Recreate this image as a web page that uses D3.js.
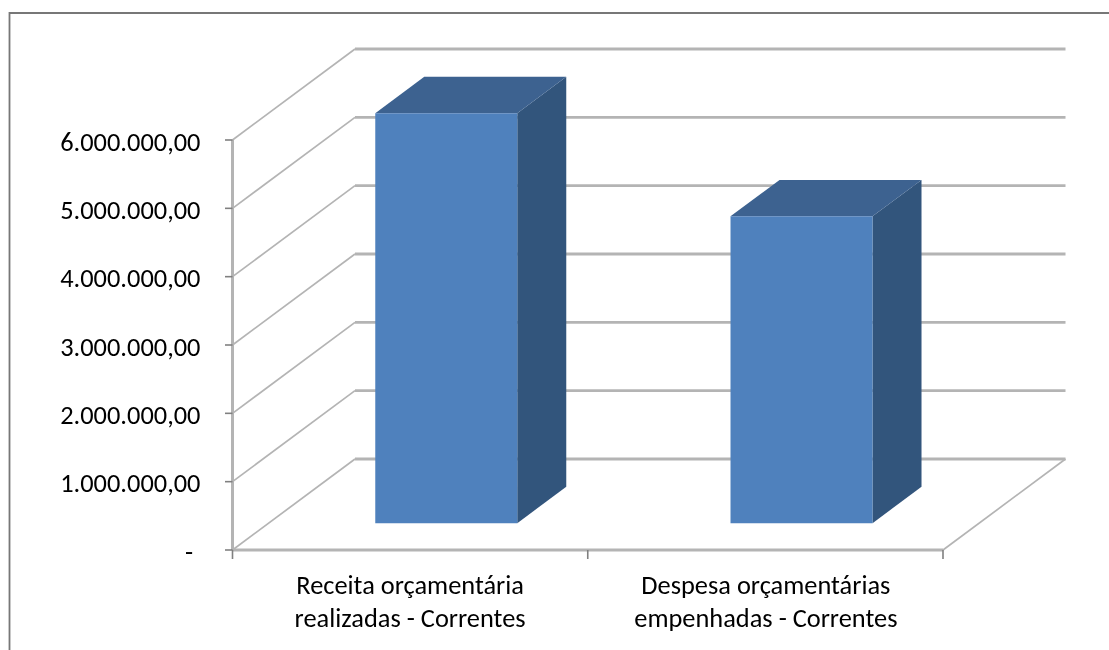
<!DOCTYPE html>
<html><head><meta charset="utf-8">
<script src="https://cdnjs.cloudflare.com/ajax/libs/d3/7.8.5/d3.min.js"></script>
<style>html,body{margin:0;padding:0;background:#fff;overflow:hidden}text{font-family:Carlito,"Open Sans","Noto Sans",sans-serif;fill:#000}</style>
</head><body><svg id="c" width="1109" height="650"></svg>
<script>
const categories = [["Receita orçamentária","realizadas - Correntes"],["Despesa orçamentárias","empenhadas - Correntes"]];
const values = [6000000, 4490000];
const tickValues = [0,1000000,2000000,3000000,4000000,5000000,6000000];
const tickLabels = ["-","1.000.000,00","2.000.000,00","3.000.000,00","4.000.000,00","5.000.000,00","6.000.000,00"];

const svgRoot = d3.select("#c");
const defs = svgRoot.append("defs");
const soft = defs.append("filter").attr("id","soft").attr("filterUnits","userSpaceOnUse")
  .attr("x",0).attr("y",0).attr("width",1109).attr("height",650);
soft.append("feGaussianBlur").attr("stdDeviation",0.7);
const softText = defs.append("filter").attr("id","softText").attr("filterUnits","userSpaceOnUse")
  .attr("x",0).attr("y",0).attr("width",1109).attr("height",650);
softText.append("feGaussianBlur").attr("stdDeviation",0.35);
const svg = svgRoot.append("g").attr("filter","url(#soft)");
const labels = svgRoot.append("g").attr("filter","url(#softText)");

const x = d3.scaleBand().domain(d3.range(categories.length)).range([232.5,943]);
const y = d3.scaleLinear().domain([0,6000000]).range([550,140]);
const depth = d3.scaleLinear().domain([0,1]).range([0,1]);
const DX = 122.5, DY = -91;
const px = (fx,t)=>fx+depth(t)*DX;
const py = (v,t)=>y(v)+depth(t)*DY;
const pts = a=>a.map(p=>[px(p[0],p[2]),py(p[1],p[2])].join(",")).join(" ");

svg.append("rect").attr("width",1109).attr("height",650).attr("fill","#fff");
svg.append("path").attr("d","M9.5,660V13H1120").attr("fill","none").attr("stroke","#777").attr("stroke-width",1.8);

const grid="#b4b4b4";
tickValues.forEach(v=>{
  svg.append("polyline").attr("points",pts([[232.5,v,0],[232.5,v,1]]))
    .attr("fill","none").attr("stroke",grid).attr("stroke-width",1.7);
  svg.append("polyline").attr("points",pts([[232.5,v,1],[943,v,1]]))
    .attr("fill","none").attr("stroke",grid).attr("stroke-width",2.8);
});
svg.append("line").attr("x1",232.5).attr("x2",232.5).attr("y1",y(6000000)).attr("y2",y(0)).attr("stroke",grid).attr("stroke-width",3);
svg.append("line").attr("x1",232.5).attr("x2",943).attr("y1",y(0)).attr("y2",y(0)).attr("stroke",grid).attr("stroke-width",3.2);
svg.append("line").attr("x1",943).attr("y1",y(0)).attr("x2",px(943,1)).attr("y2",py(0,1)).attr("stroke",grid).attr("stroke-width",1.7);

tickValues.forEach((v,i)=>{
  svg.append("line").attr("x1",225).attr("x2",232.5).attr("y1",y(v)).attr("y2",y(v)).attr("stroke","#808080").attr("stroke-width",1.6);
  labels.append("text").attr("x",i===0?193:200.5).attr("y",y(v)+10.5).attr("text-anchor","end").attr("font-size",26.4).text(tickLabels[i]);
});
d3.range(categories.length+1).forEach(i=>{
  const fx = i<categories.length ? x(i) : x.range()[1];
  svg.append("line").attr("x1",fx).attr("x2",fx).attr("y1",y(0)).attr("y2",y(0)+9).attr("stroke","#808080").attr("stroke-width",1.6);
});

const bw = 142, t0=0.295, t1=0.695;
values.forEach((val,i)=>{
  const c = x(i)+x.bandwidth()/2, l=c-bw/2, r=c+bw/2;
  svg.append("polygon").attr("points",pts([[r,0,t0],[r,0,t1],[r,val,t1],[r,val,t0]])).attr("fill","#32547c");
  svg.append("polygon").attr("points",pts([[l,val,t0],[l,val,t1],[r,val,t1],[r,val,t0]])).attr("fill","#3c6290");
  svg.append("polygon").attr("points",pts([[l,0,t0],[r,0,t0],[r,val,t0],[l,val,t0]])).attr("fill","#4f81bd");
  categories[i].forEach((s,j)=>{
    labels.append("text").attr("x",c+ (i===0?0:0.5)).attr("y",593.5+j*33.5).attr("text-anchor","middle").attr("font-size",26.4).text(s);
  });
});
</script></body></html>
